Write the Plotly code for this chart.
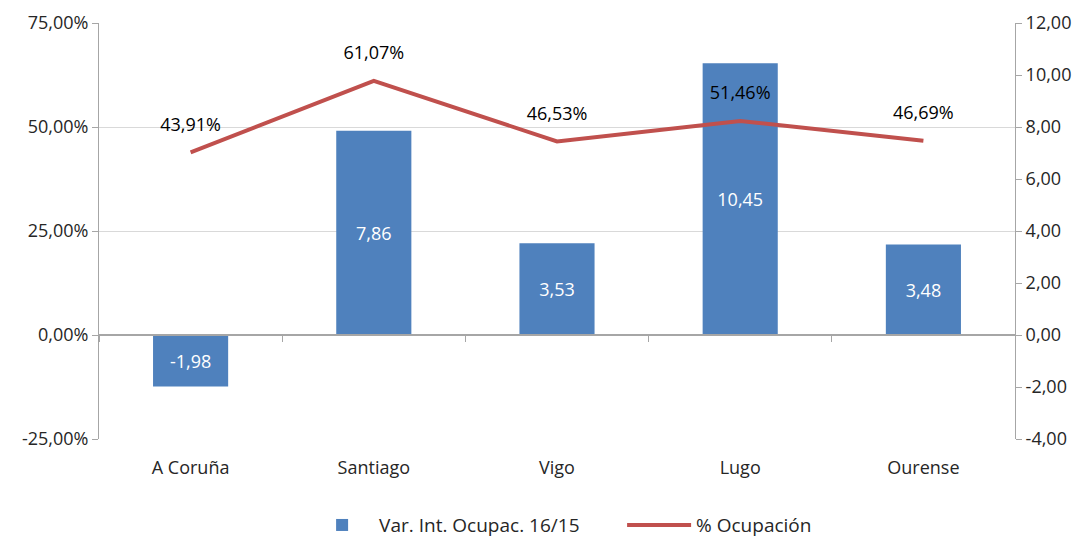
import plotly.graph_objects as go

categories = ["A Coruña", "Santiago", "Vigo", "Lugo", "Ourense"]
var_int = [-1.98, 7.86, 3.53, 10.45, 3.48]
ocupacion = [43.91, 61.07, 46.53, 51.46, 46.69]
left_ticks = [-25, 0, 25, 50, 75]
right_ticks = [-4, -2, 0, 2, 4, 6, 8, 10, 12]


def es(v, suffix=""):
    return f"{v:.2f}".replace(".", ",") + suffix


font = "Open Sans, Lato, Liberation Sans, sans-serif"
grid = "#D9D9D9"
axis_col = "#A6A6A6"
txt = "#262626"
FS = 18

fig = go.Figure()
# dummy on primary axis (gridlines / left labels)
fig.add_trace(go.Scatter(x=categories, y=[None]*5, yaxis="y", showlegend=False,
                         hoverinfo="skip"))
fig.add_trace(go.Bar(
    x=categories, y=var_int, name="Var. Int. Ocupac. 16/15",
    marker=dict(color="#4F81BD", line=dict(width=0)),
    width=0.41, yaxis="y2",
    text=[es(v) for v in var_int], texttemplate="%{text}",
    textposition="inside", insidetextanchor="middle",
    textfont=dict(color="white", size=FS, family=font),
    cliponaxis=False,
))
fig.add_trace(go.Scatter(
    x=categories, y=ocupacion, name="% Ocupación", mode="lines+markers+text",
    line=dict(color="#C0504D", width=4),
    marker=dict(size=26, color="rgba(0,0,0,0)", line=dict(width=0)),
    text=[es(v, "%") for v in ocupacion], texttemplate="%{text}",
    textposition="top center",
    textfont=dict(color="black", size=FS, family=font),
    yaxis="y3", cliponaxis=False,
))
# overlay axis providing the category-axis line and tick marks at zero
fig.add_trace(go.Scatter(x=categories, y=[None]*5, xaxis="x2", yaxis="y",
                         showlegend=False, hoverinfo="skip"))

fig.update_layout(
    width=1078, height=528,
    margin=dict(l=91, r=71, t=15, b=97, autoexpand=False),
    paper_bgcolor="white", plot_bgcolor="white",
    font=dict(family=font, size=FS, color=txt),
    xaxis=dict(type="category", categoryorder="array", categoryarray=categories,
               range=[-0.5, 4.5], showline=False, ticks="", showgrid=False,
               automargin=False,
               tickfont=dict(size=FS, color=txt), ticklabelstandoff=16),
    xaxis2=dict(type="category", categoryorder="array", categoryarray=categories,
                overlaying="x", anchor="free", position=0.25, range=[-0.5, 4.5],
                showline=True, linecolor="#A6A6A6", linewidth=1.5,
                ticks="outside", tickson="boundaries", ticklen=6, tickcolor=axis_col,
                showticklabels=False, showgrid=False, automargin=False),
    yaxis=dict(range=[-25, 75], tickmode="array", tickvals=left_ticks,
               ticktext=[es(v, "%") for v in left_ticks],
               showgrid=True, gridcolor=grid, gridwidth=1, zeroline=False,
               showline=True, linecolor=axis_col, ticks="outside", ticklen=6,
               tickcolor=axis_col, tickfont=dict(size=FS, color=txt), automargin=False),
    yaxis2=dict(range=[-4, 12], tickmode="array", tickvals=right_ticks,
                ticktext=[es(v) for v in right_ticks],
                overlaying="y", side="right", showgrid=False, zeroline=False,
                showline=True, linecolor=axis_col, ticks="outside", ticklen=6,
                tickcolor=axis_col, tickfont=dict(size=FS, color=txt), automargin=False),
    yaxis3=dict(range=[-25, 75], overlaying="y", visible=False, showgrid=False,
                zeroline=False, automargin=False),
    legend=dict(orientation="h", x=0.225, xanchor="left", y=-0.207, yanchor="middle",
                font=dict(size=19, color=txt), itemwidth=64, traceorder="normal",
                entrywidth=238, entrywidthmode="pixels"),
    showlegend=True,
)

fig.write_html("out.html")
